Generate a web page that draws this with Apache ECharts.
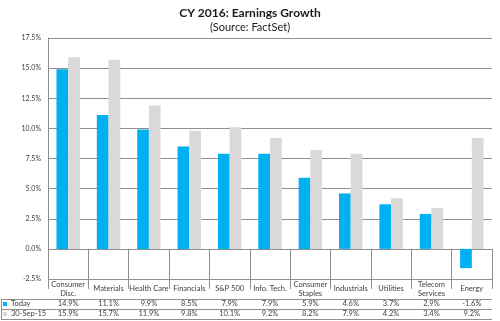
<!DOCTYPE html>
<html>
<head>
<meta charset="utf-8">
<script src="https://cdn.jsdelivr.net/npm/echarts@6/dist/echarts.min.js"></script>
<style>
  html, body { margin: 0; padding: 0; background: #fff; }
  #chart { width: 500px; height: 321px; }
</style>
</head>
<body>
<div id="chart"></div>
<script>
// Sector names shown in the table header (line breaks as printed)
const categories = [
  'Consumer\nDisc.', 'Materials', 'Health Care', 'Financials', 'S&P 500',
  'Info. Tech.', 'Consumer\nStaples', 'Industrials', 'Utilities',
  'Telecom\nServices', 'Energy'
];
// CY 2016 expected earnings growth (%)
const todayValues = [14.9, 11.1, 9.9, 8.5, 7.9, 7.9, 5.9, 4.6, 3.7, 2.9, -1.6];
const sep15Values = [15.9, 15.7, 11.9, 9.8, 10.1, 9.2, 8.2, 7.9, 4.2, 3.4, 9.2];
const seriesNames = ['Today', '30-Sep-15'];
// Y axis range / step (%)
const yMin = -2.5, yMax = 17.5, yStep = 2.5;

const FONT = 'Lato, "Open Sans", sans-serif';
const LINE = '#8f8f8f';
const TEXT = '#404040';
const fmtPct = v => v.toFixed(1) + '%';

const chart = echarts.init(document.getElementById('chart'), null, { renderer: 'canvas' });

// Table row axes: each repeats the categories and prints one series' values
function rowAxis(values, margin) {
  return {
    type: 'category',
    data: categories,
    position: 'bottom',
    axisLine: { show: false },
    axisTick: { show: false },
    axisLabel: {
      interval: 0,
      margin: margin,
      verticalAlign: 'middle',
      fontFamily: FONT,
      fontSize: 7.5,
      color: TEXT,
      formatter: (val, idx) => fmtPct(values[idx])
    }
  };
}

// One legend block per table row, so each key sits in its own cell
function rowLegend(name, top) {
  return {
    orient: 'horizontal',
    left: 3,
    top: top,
    itemWidth: 4,
    itemHeight: 4,
    itemGap: 0,
    padding: 0,
    icon: 'rect',
    selectedMode: false,
    textStyle: { fontFamily: FONT, fontSize: 7.5, color: TEXT, padding: [0, 0, 0, -1] },
    data: [name]
  };
}

chart.setOption({
  animation: false,
  textStyle: { fontFamily: FONT },
  title: [
    {
      text: 'CY 2016: Earnings Growth',
      left: 'center',
      top: 2,
      textStyle: { fontFamily: FONT, fontSize: 12, fontWeight: 'bold', color: '#1a1a1a' }
    },
    {
      text: '(Source: FactSet)',
      left: 'center',
      top: 17,
      textStyle: { fontFamily: FONT, fontSize: 11, fontWeight: 'normal', color: '#1a1a1a' }
    }
  ],
  legend: [rowLegend(seriesNames[0], 300), rowLegend(seriesNames[1], 310)],
  grid: { left: 48, right: 8, top: 38, bottom: 42, containLabel: false },
  xAxis: [
    {
      type: 'category',
      data: categories,
      position: 'bottom',
      axisLine: { show: false },
      axisTick: { show: true, interval: 0, length: 40, lineStyle: { color: LINE, width: 1 } },
      axisLabel: {
        interval: 0,
        margin: 10,
        verticalAlign: 'middle',
        fontFamily: FONT,
        fontSize: 7.5,
        lineHeight: 9,
        color: TEXT
      }
    },
    rowAxis(todayValues, 25),
    rowAxis(sep15Values, 35)
  ],
  yAxis: {
    type: 'value',
    min: yMin,
    max: yMax,
    interval: yStep,
    axisLine: { show: true, lineStyle: { color: LINE, width: 1 } },
    axisTick: { show: false },
    splitLine: { show: true, lineStyle: { color: LINE, width: 1 } },
    axisLabel: {
      margin: 7,
      fontFamily: FONT,
      fontSize: 7,
      color: TEXT,
      formatter: v => fmtPct(v)
    }
  },
  series: [
    {
      name: seriesNames[0],
      type: 'bar',
      data: todayValues,
      barGap: '0%',
      barCategoryGap: '42%',
      itemStyle: { color: '#00b0f0' }
    },
    {
      name: seriesNames[1],
      type: 'bar',
      data: sep15Values,
      barGap: '0%',
      barCategoryGap: '42%',
      itemStyle: { color: '#d9d9d9' }
    }
  ],
  // Table rules for the two value rows and the legend column
  graphic: [
    { type: 'line', shape: { x1: 1, y1: 299.5, x2: 492, y2: 299.5 }, style: { stroke: LINE, lineWidth: 1 } },
    { type: 'line', shape: { x1: 1, y1: 309.5, x2: 492, y2: 309.5 }, style: { stroke: LINE, lineWidth: 1 } },
    { type: 'line', shape: { x1: 1, y1: 319.5, x2: 492, y2: 319.5 }, style: { stroke: LINE, lineWidth: 1 } },
    { type: 'line', shape: { x1: 1.5, y1: 299.5, x2: 1.5, y2: 319.5 }, style: { stroke: LINE, lineWidth: 1 } }
  ]
});
</script>
</body>
</html>
